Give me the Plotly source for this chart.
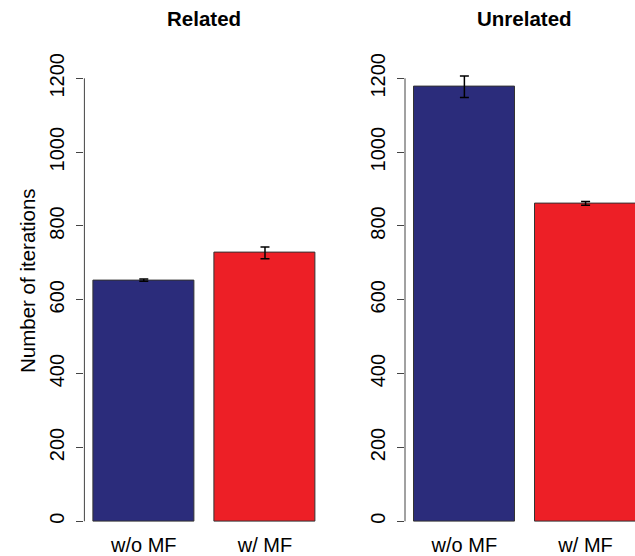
import plotly.graph_objects as go

# Mean number of iterations with and without MF, for related and unrelated tasks
categories = ["w/o MF", "w/ MF"]
related_values = [653, 727]
related_errors = [3, 16]
unrelated_values = [1177, 861]
unrelated_errors = [29, 5]
panel_titles = ["Related", "Unrelated"]
y_ticks = [0, 200, 400, 600, 800, 1000, 1200]
bar_colors = ["#2b2c7b", "#ed1f26"]

FONT = "Liberation Sans, Arial, Helvetica, sans-serif"
W, H = 635, 556

# R barplot geometry: width 1, space 0.2 -> centres at 0.7 and 1.9
bar_x = [0.7, 1.9]
x_left, x_right = 0.112, 2.488
px_per_unit = 101.0

fig = go.Figure()

panels = [(related_values, related_errors), (unrelated_values, unrelated_errors)]
left_px = [84.4, 405.0]

layout_axes = {}
for i, (vals, errs) in enumerate(panels):
    n = "" if i == 0 else str(i + 1)
    fig.add_trace(go.Bar(
        x=bar_x, y=vals, width=1.0,
        marker=dict(color=bar_colors, line=dict(color="#333333", width=1)),
        error_y=dict(type="data", array=errs, visible=True, color="black",
                     thickness=1.5, width=4.5),
        xaxis="x" + n, yaxis="y" + n, showlegend=False,
    ))
    lp = left_px[i]
    rp = lp + (x_right - x_left) * px_per_unit
    d0 = lp / W
    d1 = min(rp / W, 1.0)
    xr_right = x_left + (d1 * W - lp) / px_per_unit
    layout_axes["xaxis" + n] = dict(
        domain=[d0, d1], range=[x_left, xr_right], anchor="y" + n,
        tickvals=bar_x, ticktext=categories, showgrid=False, zeroline=False,
        showline=False, ticks="", automargin=False,
        tickfont=dict(family=FONT, size=20, color="black"),
    )
    layout_axes["yaxis" + n] = dict(
        domain=[(556 - 530.5) / H, (556 - 60.6) / H], range=[-25, 1248],
        anchor="x" + n, tickvals=y_ticks, tickangle=-90, showgrid=False,
        zeroline=False, showline=False, ticks="outside", ticklen=7,
        tickcolor="#444444", tickwidth=1, automargin=False,
        ticklabelstandoff=4,
        tickfont=dict(family=FONT, size=20, color="black"),
    )
    # y axis line spanning first to last tick
    fig.add_shape(type="line", xref=("x" + n) + " domain", yref="y" + n,
                  x0=0, x1=0, y0=0, y1=1200,
                  line=dict(color="#444444", width=1))
    fig.add_annotation(text="<b>" + panel_titles[i] + "</b>", xref="paper",
                       yref="paper", x=(lp + rp) / 2 / W, y=(556 - 18) / H,
                       xanchor="center", yanchor="middle", showarrow=False,
                       font=dict(family=FONT, size=20.5, color="black"))

fig.add_annotation(text="Number of iterations", xref="paper", yref="paper",
                   x=27 / W, y=(556 - 281) / H, textangle=-90, showarrow=False,
                   xanchor="center", yanchor="middle",
                   font=dict(family=FONT, size=20.5, color="black"))

fig.update_layout(
    width=W, height=H, margin=dict(l=0, r=0, t=0, b=0),
    paper_bgcolor="white", plot_bgcolor="white", bargap=0,
    **layout_axes,
)

fig.write_html("out.html")
